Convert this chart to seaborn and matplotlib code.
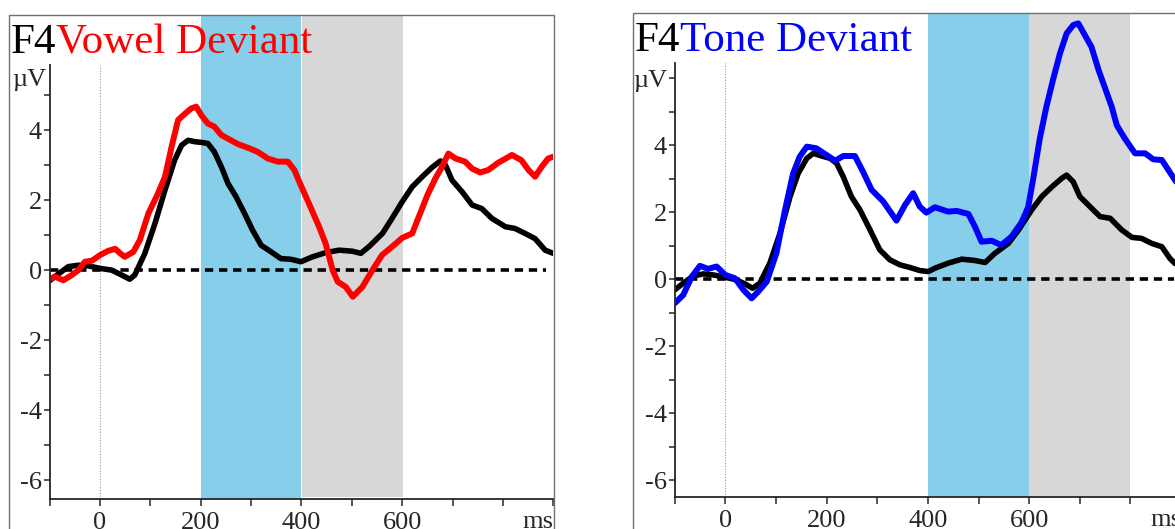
import numpy as np
import pandas as pd
import matplotlib
matplotlib.use("Agg")
import matplotlib.pyplot as plt
from matplotlib.patches import Rectangle
import seaborn as sns

# ---------------- data ----------------
# Left panel: standard (black) and vowel deviant (red)
vowel_std_t = [-100, -82, -63, -43, -23, 0, 23, 43, 59, 69, 89, 109, 129, 148, 162, 175, 188, 201, 214,
               227, 241, 254, 270, 287, 303, 320, 340, 359, 379, 399, 422, 448, 475, 501, 518, 534, 561,
               580, 600, 620, 640, 659, 676, 686, 699, 719, 739, 758, 778, 805, 824, 844, 864, 884, 900]
vowel_std_v = [-0.3, -0.1, 0.1, 0.14, 0.12, 0.05, 0.0, -0.14, -0.26, -0.14, 0.48, 1.33, 2.29, 3.14, 3.57,
               3.71, 3.67, 3.65, 3.62, 3.38, 2.95, 2.48, 2.1, 1.62, 1.14, 0.71, 0.52, 0.33, 0.31, 0.24,
               0.38, 0.5, 0.57, 0.54, 0.48, 0.67, 1.05, 1.48, 1.95, 2.38, 2.67, 2.93, 3.12, 3.0, 2.57,
               2.24, 1.86, 1.76, 1.48, 1.24, 1.19, 1.05, 0.9, 0.57, 0.48]

vowel_dev_t = [-100, -89, -73, -56, -43, -30, -16, 0, 16, 30, 40, 49, 66, 79, 96, 115, 129, 142, 155, 168,
               181, 191, 201, 214, 227, 241, 260, 274, 293, 313, 333, 353, 373, 386, 398, 415, 435, 448,
               462, 472, 488, 502, 521, 541, 560, 580, 600, 620, 633, 650, 666, 679, 692, 706, 725, 739,
               755, 771, 791, 818, 837, 851, 864, 877, 890, 900]
vowel_dev_v = [-0.24, -0.19, -0.29, -0.14, 0.0, 0.24, 0.27, 0.43, 0.55, 0.61, 0.48, 0.38, 0.52, 0.86,
               1.62, 2.19, 2.67, 3.52, 4.29, 4.46, 4.62, 4.67, 4.43, 4.19, 4.1, 3.86, 3.71, 3.6, 3.5,
               3.38, 3.19, 3.1, 3.1, 2.86, 2.45, 1.9, 1.24, 0.76, 0.0, -0.33, -0.48, -0.76, -0.48, 0.0,
               0.43, 0.67, 0.92, 1.05, 1.52, 2.14, 2.62, 2.95, 3.33, 3.19, 3.1, 2.9, 2.79, 2.86, 3.07,
               3.29, 3.14, 2.86, 2.67, 2.95, 3.19, 3.24]

# Right panel: standard (black) and tone deviant (blue)
tone_std_t = [-100, -83, -63, -43, -24, 0, 22, 39, 54, 68, 88, 108, 128, 144, 161, 174, 190, 207, 220,
              233, 249, 266, 286, 305, 325, 345, 365, 384, 401, 414, 440, 467, 493, 513, 532, 559, 579,
              605, 625, 645, 664, 674, 687, 700, 720, 740, 760, 783, 803, 822, 842, 862, 878, 888, 900]
tone_std_v = [-0.32, -0.12, 0.1, 0.16, 0.13, 0.06, -0.02, -0.14, -0.27, -0.12, 0.48, 1.37, 2.47, 3.16,
              3.61, 3.76, 3.68, 3.61, 3.46, 3.06, 2.47, 2.07, 1.47, 0.88, 0.58, 0.43, 0.35, 0.26, 0.23,
              0.33, 0.48, 0.6, 0.56, 0.5, 0.77, 1.07, 1.47, 2.07, 2.47, 2.76, 3.01, 3.11, 2.91, 2.47,
              2.17, 1.87, 1.82, 1.47, 1.25, 1.22, 1.07, 0.97, 0.62, 0.47, 0.4]

tone_dev_t = [-100, -83, -66, -50, -34, -17, 0, 19, 36, 52, 65, 82, 101, 118, 134, 147, 161, 180, 200,
              217, 233, 256, 272, 289, 312, 328, 338, 355, 371, 384, 397, 414, 440, 457, 480, 493, 506,
              526, 545, 565, 585, 598, 608, 621, 634, 647, 661, 674, 687, 697, 710, 723, 737, 750, 763,
              773, 789, 809, 829, 845, 862, 875, 888, 900]
tone_dev_v = [-0.72, -0.47, 0.08, 0.4, 0.31, 0.38, 0.13, 0.03, -0.32, -0.57, -0.37, -0.07, 0.78, 2.07,
              3.16, 3.66, 3.96, 3.91, 3.71, 3.54, 3.68, 3.68, 3.21, 2.67, 2.32, 1.97, 1.75, 2.22, 2.57,
              2.17, 1.99, 2.15, 2.02, 2.04, 1.95, 1.57, 1.12, 1.15, 1.02, 1.27, 1.7, 2.15, 3.0, 4.2,
              5.15, 5.95, 6.75, 7.34, 7.59, 7.64, 7.29, 6.94, 6.25, 5.7, 5.15, 4.6, 4.2, 3.76, 3.76,
              3.58, 3.56, 3.26, 2.96, 2.7]

panel_titles = ["Vowel Deviant", "Tone Deviant"]
panel_colors = ["#ff0000", "#0000ff"]
electrode = "F4"
blue_windows = [(200, 400), (400, 600)]
gray_windows = [(402, 601), (600, 800)]
ytick_major = [-6, -4, -2, 0, 2, 4]
ytick_minor = [-5, -3, -1, 1, 3, 5]
xtick_major = [0, 200, 400, 600, 800]
xtick_labels = ["0", "200", "400", "600", ""]
xtick_minor = [-100, 100, 300, 500, 700, 900]

# ---------------- style ----------------
sns.set_style("ticks")
plt.rcParams["font.family"] = ["Liberation Serif", "DejaVu Serif"]
plt.rcParams["axes.unicode_minus"] = False

W, H = 1175, 529
fig = plt.figure(figsize=(W / 100, H / 100), dpi=100)

def fx(px):
    return px / W

def fy(py):
    return 1 - py / H

LABEL_FS = 19
TITLE_FS = 31

panels = [
    dict(l=49.7, r=553.2, top=15.0, bot=499.0, ylim=(-6.54, 7.29), spine_top=5.86,
         frame=(8.8, 15.0, 553.5), title_xy=(11, 53), uv_label="text",
         std=(vowel_std_t, vowel_std_v), dev=(vowel_dev_t, vowel_dev_v)),
    dict(l=674.6, r=1181.1, top=14.0, bot=496.6, ylim=(-6.49, 7.92), spine_top=6.47,
         frame=(633.0, 13.5, 1300.0), title_xy=(635, 51.4), uv_label="tick",
         std=(tone_std_t, tone_std_v), dev=(tone_dev_t, tone_dev_v)),
]

for i, p in enumerate(panels):
    # outer gray frame
    fl, ft, fr = p["frame"]
    fig.add_artist(Rectangle((fx(fl), -0.2), fx(fr) - fx(fl), fy(ft) + 0.2,
                             transform=fig.transFigure, fill=False,
                             edgecolor="#707070", lw=1.0, clip_on=False))

    ax = fig.add_axes([fx(p["l"]), fy(p["bot"]), fx(p["r"]) - fx(p["l"]),
                       fy(p["top"]) - fy(p["bot"])])
    ax.set_facecolor("none")
    ax.set_xlim(-100, 900)
    ax.set_ylim(*p["ylim"])

    b0, b1 = blue_windows[i]
    g0, g1 = gray_windows[i]
    ax.axvspan(b0, b1, color="#87ceeb", lw=0, zorder=0)
    ax.axvspan(g0, g1, ymin=0.005 if i == 0 else 0, color="#d7d7d7", lw=0, zorder=0)

    # vertical dotted line at stimulus onset
    ax.plot([0, 0], [p["ylim"][0], p["spine_top"]], ls=(0, (1, 1.5)), color="#999999", lw=0.8, zorder=1)
    # zero dashed line
    ax.plot([-100, 885], [0, 0], color="black", lw=2.6, dashes=(2.3, 1.6), zorder=2)

    st, sv = p["std"]
    dt, dv = p["dev"]
    sns.lineplot(x=st, y=sv, ax=ax, color="black", lw=4.0, sort=False, estimator=None, zorder=3)
    sns.lineplot(x=dt, y=dv, ax=ax, color=panel_colors[i], lw=4.3, sort=False, estimator=None, zorder=4)

    # spines
    for s in ["top", "right"]:
        ax.spines[s].set_visible(False)
    ax.spines["left"].set_bounds(p["ylim"][0], p["spine_top"])
    ax.spines["left"].set_linewidth(1.3)
    ax.spines["bottom"].set_linewidth(1.3)
    ax.spines["left"].set_zorder(5)
    ax.spines["bottom"].set_zorder(5)

    # ticks
    ax.set_xticks(xtick_major)
    ax.set_xticklabels(xtick_labels)
    ax.set_xticks(xtick_minor, minor=True)
    if p["uv_label"] == "tick":
        ax.set_yticks(ytick_major + [6])
        ax.set_yticklabels([str(v) for v in ytick_major] + ["\u00b5V"])
    else:
        ax.set_yticks(ytick_major)
        ax.set_yticklabels([str(v) for v in ytick_major])
    ax.set_yticks(ytick_minor, minor=True)
    ax.tick_params(axis="x", which="both", direction="out", length=5, width=1.1,
                   labelsize=LABEL_FS, pad=4.5)
    ax.tick_params(axis="y", which="both", direction="out", length=4, width=1.1,
                   labelsize=LABEL_FS, pad=1.5)
    ax.set_xlabel("")
    ax.set_ylabel("")

    if p["uv_label"] == "text":
        ax.annotate("\u00b5V", xy=(0, 5.43), xycoords=("axes fraction", "data"),
                    xytext=(-3.5, 0), textcoords="offset pixels",
                    ha="right", va="center", fontsize=LABEL_FS)

    ax.annotate("ms", xy=(1, 0), xycoords="axes fraction",
                xytext=(0, -12), textcoords="offset pixels",
                ha="right", va="top", fontsize=LABEL_FS)

    # title: "F4" in black + condition in colour
    tx, ty = p["title_xy"]
    t1 = fig.text(fx(tx), fy(ty), electrode, fontsize=TITLE_FS, color="black",
                  ha="left", va="baseline")
    ax.annotate(panel_titles[i], xy=(1, 0), xycoords=t1, ha="left", va="bottom",
                fontsize=TITLE_FS, color=panel_colors[i], annotation_clip=False)

fig.savefig("out.png", dpi=100)
